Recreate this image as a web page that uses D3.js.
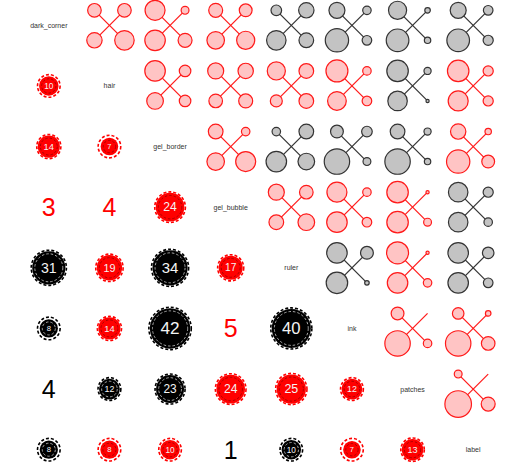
<!DOCTYPE html>
<html><head><meta charset="utf-8">
<script src="https://cdn.jsdelivr.net/npm/d3@7/dist/d3.min.js"></script>
<style>body{margin:0;background:#fff}svg{display:block;font-family:"Liberation Sans",Arial,sans-serif}</style>
</head><body>
<svg id="chart" width="521" height="470"></svg>
<script>
const variables = ["dark_corner","hair","gel_border","gel_bubble","ruler","ink","patches","label"];

// upper triangle 2x2 tables: [row, col, topLeft, topRight, bottomLeft, bottomRight]
const pairCounts = [
  [0,1,18,18,23,37],[0,2,39,6,41,19],[0,3,19,16,30,32],[0,4,11,23,37,21],
  [0,5,25,7,53,9],[0,6,32,3,50,4],[0,7,25,9,50,10],
  [1,2,41,13,27,13],[1,3,25,23,18,19],[1,4,32,21,14,21],[1,5,47,7,34,9],
  [1,6,45,5,37,1],[1,7,45,10,39,10],
  [2,3,21,7,30,39],[2,4,7,21,41,27],[2,5,16,11,63,6],[2,6,21,5,63,4],[2,7,23,4,53,16],
  [3,4,25,18,21,27],[3,5,39,7,41,9],[3,6,45,1,45,6],[3,7,37,10,37,7],
  [4,5,41,16,45,2],[4,6,47,1,41,7],[4,7,41,13,41,9],
  [5,6,16,0,63,7],[5,7,13,3,63,18],
  [6,7,6,0,69,19]
];

// lower triangle values: [row, col, value]
const lowerValues = [
  [1,0,10],
  [2,0,14],[2,1,7],
  [3,0,3],[3,1,4],[3,2,24],
  [4,0,31],[4,1,19],[4,2,34],[4,3,17],
  [5,0,8],[5,1,14],[5,2,42],[5,3,5],[5,4,40],
  [6,0,4],[6,1,12],[6,2,23],[6,3,24],[6,4,25],[6,5,12],
  [7,0,8],[7,1,8],[7,2,10],[7,3,1],[7,4,10],[7,5,7],[7,6,13]
];

const svg = d3.select("#chart");
const x = d3.scaleBand().domain(d3.range(variables.length)).range([18.5, 503.5]);
const y = d3.scaleBand().domain(d3.range(variables.length)).range([-5, 480]);
const cx = i => x(i) + x.bandwidth()/2;
const cy = i => y(i) + y.bandwidth()/2;

const rGlyph = d3.scaleSqrt().domain([0, 70]).range([0, 13.4]);
const rBubble = d3.scaleLinear().domain([0, 42]).range([6.5, 20.2]);
const arm = 15;

// positive association -> red, else gray
const positive = {};
pairCounts.forEach(([i,j,tl,tr,bl,br]) => {
  positive[i+"_"+j] = tl*br > tr*bl;
});

// labels on diagonal
svg.append("g").selectAll("text").data(variables).join("text")
  .attr("x", (d,i) => cx(i)).attr("y", (d,i) => cy(i))
  .attr("text-anchor","middle").attr("dominant-baseline","central")
  .attr("font-size", 7).attr("fill","#333").text(d => d);

// upper glyphs
const glyphs = svg.append("g").selectAll("g").data(pairCounts).join("g")
  .attr("transform", d => `translate(${cx(d[1])},${cy(d[0])})`);
glyphs.each(function(d){
  const g = d3.select(this);
  const pos = positive[d[0]+"_"+d[1]];
  const stroke = pos ? "#ff1a1a" : "#333333";
  const fill = pos ? "#ffc4c4" : "#c3c3c3";
  g.append("line").attr("x1",-arm).attr("y1",-arm).attr("x2",arm).attr("y2",arm)
    .attr("stroke",stroke).attr("stroke-width",1.2);
  g.append("line").attr("x1",arm).attr("y1",-arm).attr("x2",-arm).attr("y2",arm)
    .attr("stroke",stroke).attr("stroke-width",1.2);
  const corners = [[-arm,-arm,d[2]],[arm,-arm,d[3]],[-arm,arm,d[4]],[arm,arm,d[5]]];
  corners.filter(c => c[2] > 0).forEach(c => {
    g.append("circle").attr("cx",c[0]).attr("cy",c[1]).attr("r",rGlyph(c[2]))
      .attr("fill",fill).attr("stroke",stroke).attr("stroke-width",1.2);
  });
});

// lower cells
const lower = svg.append("g").selectAll("g").data(lowerValues).join("g")
  .attr("transform", d => `translate(${cx(d[1])},${cy(d[0])})`);
lower.each(function(d){
  const g = d3.select(this);
  const pos = positive[d[1]+"_"+d[0]];
  const main = pos ? "#ff0000" : "#000000";
  const v = d[2];
  if (v <= 5) {
    g.append("text").attr("text-anchor","middle").attr("dominant-baseline","central")
      .attr("font-size",25).attr("fill",main).text(v);
    return;
  }
  const r = rBubble(v);
  g.append("circle").attr("r", r).attr("fill", main);
  g.append("circle").attr("r", Math.max(r + 1.0, 11.3)).attr("fill","none").attr("stroke", main)
    .attr("stroke-width",1.6).attr("stroke-dasharray","3,2");
  g.append("circle").attr("r", Math.max(r - 2.6, 2)).attr("fill","none")
    .attr("stroke", pos ? "#a00000" : "#bbbbbb")
    .attr("stroke-width",0.9).attr("stroke-dasharray","2.5,2");
  g.append("text").attr("text-anchor","middle").attr("dominant-baseline","central")
    .attr("font-size", r*0.85).attr("fill","#f4f4f4").text(v);
});
</script>
</body></html>
